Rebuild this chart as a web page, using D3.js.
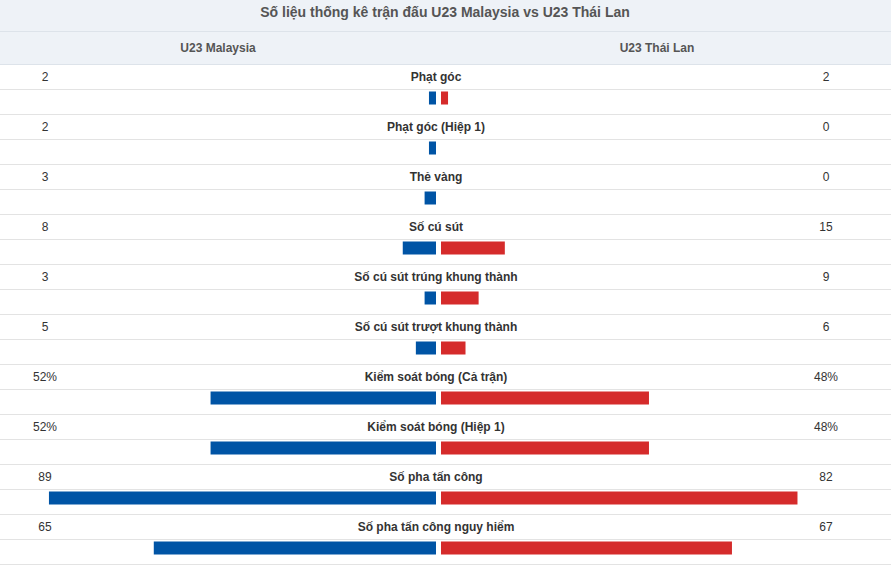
<!DOCTYPE html>
<html>
<head>
<meta charset="utf-8">
<script src="https://cdn.jsdelivr.net/npm/d3@7"></script>
<style>
  body { margin: 0; background: #fff; }
  text { font-family: "Liberation Sans", Arial, sans-serif; }
</style>
</head>
<body>
<svg id="chart" width="894" height="566"></svg>
<script>
var title = "Số liệu thống kê trận đấu U23 Malaysia vs U23 Thái Lan";
var teams = ["U23 Malaysia", "U23 Thái Lan"];
var stats = ["Phạt góc", "Phạt góc (Hiệp 1)", "Thẻ vàng", "Số cú sút",
  "Số cú sút trúng khung thành", "Số cú sút trượt khung thành",
  "Kiểm soát bóng (Cả trận)", "Kiểm soát bóng (Hiệp 1)",
  "Số pha tấn công", "Số pha tấn công nguy hiểm"];
var homeValues = [2, 2, 3, 8, 3, 5, 52, 52, 89, 65];
var awayValues = [2, 0, 0, 15, 9, 6, 48, 48, 82, 67];
var isPercent = [false, false, false, false, false, false, true, true, false, false];

var W = 891, centerL = 436, centerR = 441;
var svg = d3.select("#chart");

// bar length scale (values 0..100)
var len = d3.scaleLinear().domain([0, 100]).range([0, 436.8]);
function barW(v){ return v > 0 ? Math.max(0, len(v) - 1.7) : 0; }

var rowY = d3.scaleBand().domain(d3.range(stats.length)).range([64, 64 + 50*stats.length]);

// title + header background
svg.append("rect").attr("x",0).attr("y",0).attr("width",W).attr("height",64).attr("fill","#eef2f7");
svg.append("line").attr("x1",0).attr("x2",W).attr("y1",31.5).attr("y2",31.5).attr("stroke","#dde3ea");
svg.append("line").attr("x1",0).attr("x2",W).attr("y1",64.5).attr("y2",64.5).attr("stroke","#dde3ea");

svg.append("text").attr("x",445).attr("y",12).attr("text-anchor","middle")
  .attr("dominant-baseline","central").attr("font-size","14px").attr("font-weight","bold")
  .attr("fill","#555").text(title);

svg.selectAll("text.team").data(teams).enter().append("text")
  .attr("class","team")
  .attr("x", function(d,i){ return i === 0 ? 218 : 657; })
  .attr("y", 48).attr("text-anchor","middle").attr("dominant-baseline","central")
  .attr("font-size","12px").attr("font-weight","bold").attr("fill","#555")
  .text(function(d){ return d; });

var rows = svg.selectAll("g.row").data(stats).enter().append("g")
  .attr("class","row")
  .attr("transform", function(d,i){ return "translate(0," + rowY(i) + ")"; });

rows.append("line").attr("x1",0).attr("x2",W).attr("y1",25.5).attr("y2",25.5).attr("stroke","#e3e3e3");
rows.append("line").attr("x1",0).attr("x2",W).attr("y1",50.5).attr("y2",50.5).attr("stroke","#e3e3e3");

rows.append("text").attr("x",436).attr("y",13).attr("text-anchor","middle")
  .attr("dominant-baseline","central").attr("font-size","12px").attr("font-weight","bold")
  .attr("fill","#333").text(function(d){ return d; });

rows.append("text").attr("x",45).attr("y",13).attr("text-anchor","middle")
  .attr("dominant-baseline","central").attr("font-size","12px").attr("fill","#333")
  .text(function(d,i){ return homeValues[i] + (isPercent[i] ? "%" : ""); });

rows.append("text").attr("x",826).attr("y",13).attr("text-anchor","middle")
  .attr("dominant-baseline","central").attr("font-size","12px").attr("fill","#333")
  .text(function(d,i){ return awayValues[i] + (isPercent[i] ? "%" : ""); });

rows.append("rect")
  .attr("x", function(d,i){ return centerL - barW(homeValues[i]); })
  .attr("y", 27.5).attr("height", 13)
  .attr("width", function(d,i){ return barW(homeValues[i]); })
  .attr("fill", "#0054a5");

rows.append("rect")
  .attr("x", centerR)
  .attr("y", 27.5).attr("height", 13)
  .attr("width", function(d,i){ return barW(awayValues[i]); })
  .attr("fill", "#d52b2b");
</script>
</body>
</html>
